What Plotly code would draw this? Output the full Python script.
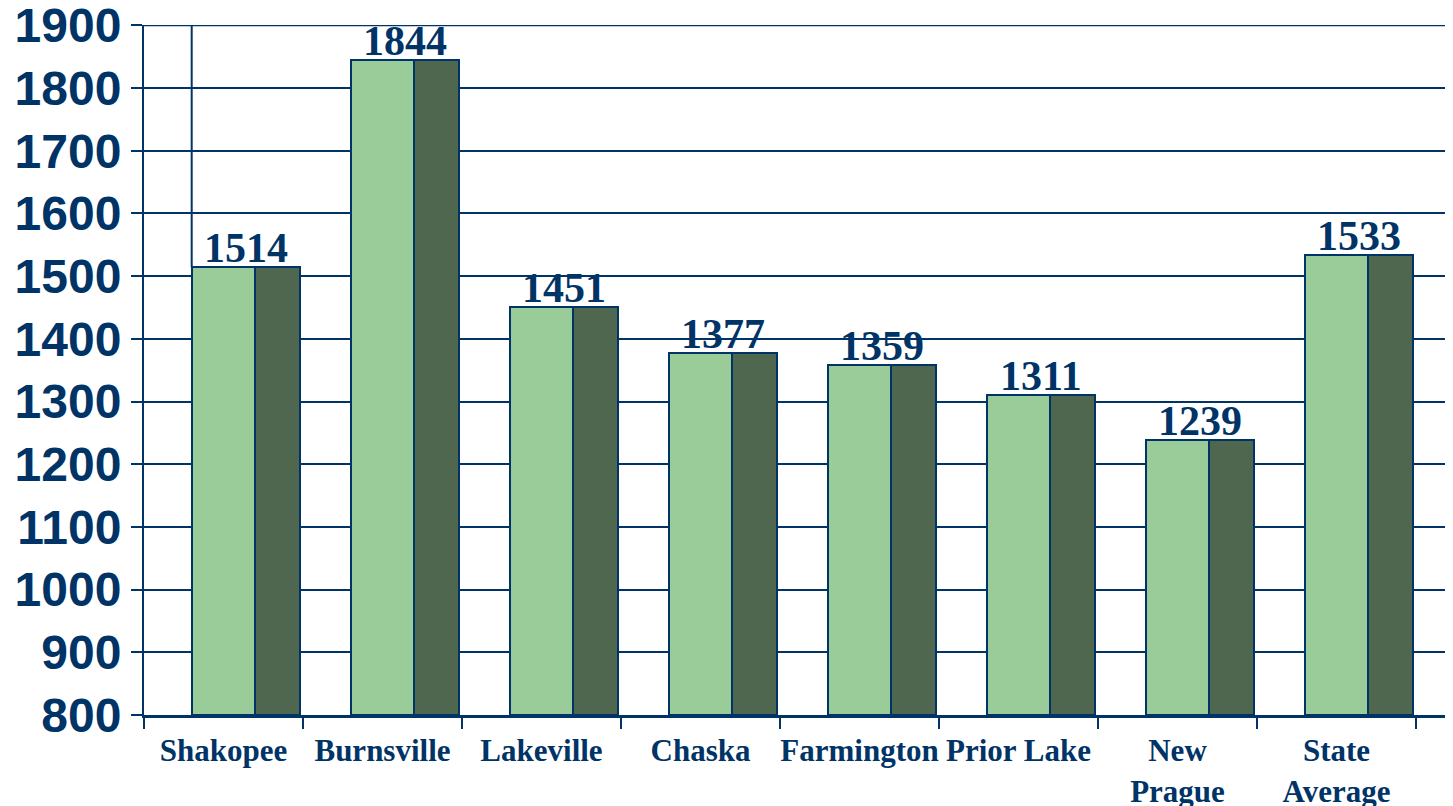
import plotly.graph_objects as go

categories = ["Shakopee", "Burnsville", "Lakeville", "Chaska", "Farmington", "Prior Lake", "New Prague", "State Average"]
tick_labels = ["Shakopee", "Burnsville", "Lakeville", "Chaska", "Farmington", "Prior Lake", "New<br>Prague", "State<br>Average"]
values = [1514, 1844, 1451, 1377, 1359, 1311, 1239, 1533]
y_ticks = list(range(800, 2000, 100))
y_base = 800

NAVY = "#003366"
LIGHT = "#99CC99"
DARK = "#4E674E"

heights = [v - y_base for v in values]

fig = go.Figure()
fig.add_trace(go.Bar(x=categories, y=heights, base=y_base, width=0.4, offset=-0.2,
                     marker=dict(color=LIGHT, line=dict(color=NAVY, width=2)),
                     hoverinfo="skip"))
fig.add_trace(go.Bar(x=categories, y=heights, base=y_base, width=0.28, offset=0.2,
                     marker=dict(color=DARK, line=dict(color=NAVY, width=2)),
                     hoverinfo="skip"))

for c, v in zip(categories, values):
    fig.add_annotation(x=c, y=v, text=str(v), showarrow=False, xanchor="center", yanchor="bottom",
                       xshift=22, yshift=-6,
                       font=dict(family="Liberation Serif, Times New Roman, serif", size=42,
                                 color=NAVY, weight="bold"))

# stray vertical line at left edge of first bar pair
fig.add_shape(type="line", xref="x", yref="y", x0=-0.2, x1=-0.2, y0=values[0], y1=1900,
              line=dict(color=NAVY, width=2), layer="below")
# top gridline
fig.add_shape(type="line", xref="paper", yref="y", x0=0, x1=1, y0=1900, y1=1900,
              line=dict(color=NAVY, width=2), layer="below")

fig.update_layout(
    width=1453, height=806,
    margin=dict(l=136, r=0, t=17, b=99, autoexpand=False),
    paper_bgcolor="white", plot_bgcolor="white",
    barmode="overlay", showlegend=False, bargap=0,
)
fig.update_xaxes(type="category", range=[-0.5, 7.783], tickson="boundaries",
                 tickmode="array", tickvals=categories, ticktext=tick_labels,
                 tickangle=0, ticklabeloverflow="allow",
                 ticks="outside", ticklen=11, tickwidth=2, tickcolor=NAVY,
                 showline=True, linecolor=NAVY, linewidth=3, showgrid=False,
                 automargin=False,
                 tickfont=dict(family="Liberation Serif, Times New Roman, serif", size=31,
                               color=NAVY, weight="bold"),
                 ticklabelstandoff=6)
fig.update_yaxes(range=[800, 1900.5], tickmode="array", tickvals=y_ticks,
                 ticklabeloverflow="allow",
                 ticks="outside", ticklen=11, tickwidth=2, tickcolor=NAVY,
                 showline=True, linecolor=NAVY, linewidth=2,
                 showgrid=True, gridcolor=NAVY, gridwidth=2, zeroline=False,
                 automargin=False,
                 tickfont=dict(family="Liberation Sans, Arial, sans-serif", size=48,
                               color=NAVY, weight="bold"),
                 ticklabelstandoff=0)

fig.write_html("out.html")
